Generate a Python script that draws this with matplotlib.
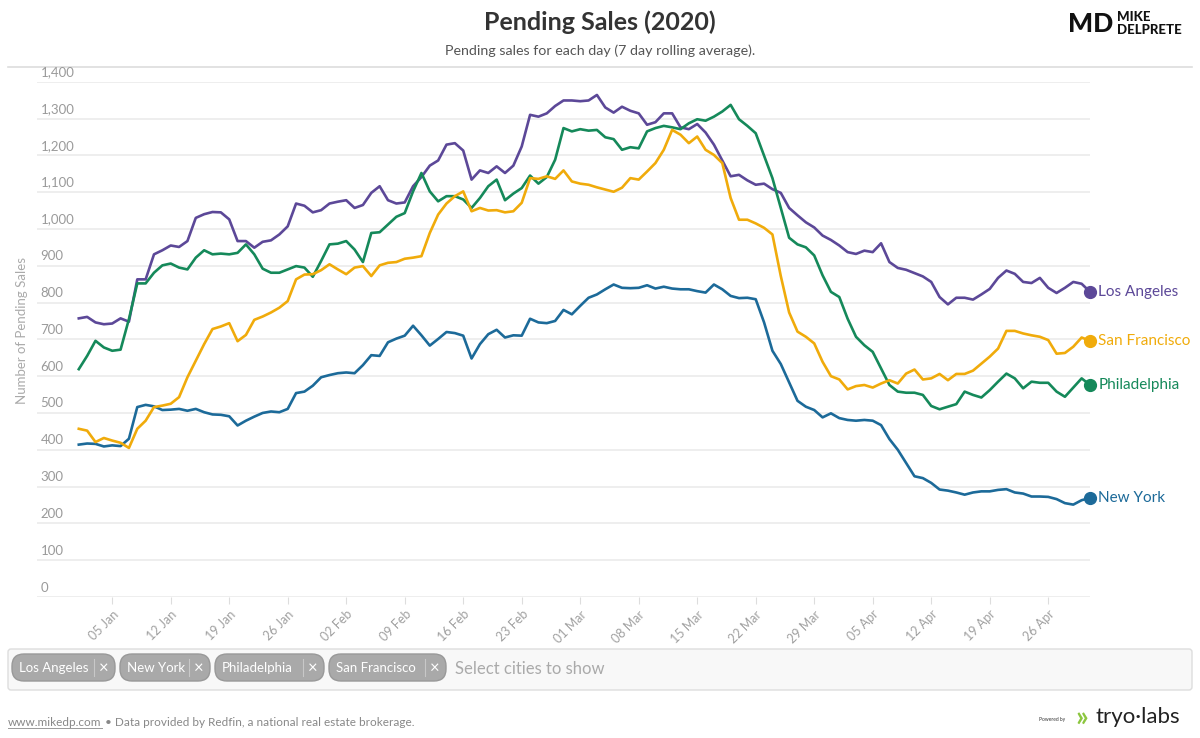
import matplotlib
matplotlib.use("Agg")
import matplotlib.pyplot as plt
import matplotlib.dates as mdates
from matplotlib.patches import FancyBboxPatch
import pandas as pd

plt.rcParams["font.family"] = ["Lato", "DejaVu Sans"]

# daily dates, 7 day rolling average of pending sales
dates = pd.date_range("2020-01-01", "2020-05-01", freq="D")
week_ticks = pd.date_range("2020-01-05", "2020-04-26", freq="7D")

los_angeles = [
    757, 761, 746, 741, 743, 757, 748, 863, 863, 931, 942, 955, 951, 967, 1030, 1040, 1046,
    1045, 1026, 967, 967, 949, 965, 969, 985, 1007, 1069, 1063, 1045, 1051, 1069, 1074, 1078, 1057, 1065,
    1098, 1116, 1078, 1069, 1072, 1116, 1141, 1172, 1186, 1229, 1233, 1213, 1134, 1159, 1152, 1170, 1152,
    1172, 1224, 1310, 1305, 1314, 1334, 1349, 1349, 1347, 1349, 1364, 1330, 1316, 1332, 1321, 1314, 1283, 1290,
    1314, 1314, 1276, 1271, 1285, 1262, 1229, 1186, 1143, 1147, 1132, 1120, 1123, 1108, 1098, 1057, 1037,
    1018, 1004, 982, 970, 955, 937, 932, 941, 937, 961, 910, 894, 889, 880, 871, 856, 815,
    795, 813, 813, 808, 822, 837, 867, 887, 878, 856, 853, 867, 840, 826, 840, 856, 851, 829,
]
new_york = [
    414, 417, 416, 409, 412, 410, 430, 516, 522, 518, 508, 509, 511, 506, 511, 502, 496,
    495, 491, 466, 479, 490, 500, 504, 502, 511, 554, 558, 574, 597, 603, 608, 610, 608, 630,
    657, 655, 692, 702, 710, 737, 711, 683, 701, 720, 717, 710, 648, 687, 714, 726, 705,
    711, 710, 756, 746, 744, 750, 780, 768, 791, 813, 822, 836, 849, 840, 839, 840, 847, 838,
    843, 838, 836, 836, 831, 827, 849, 836, 818, 812, 813, 809, 746, 669, 633, 583, 533,
    517, 508, 488, 499, 486, 481, 479, 481, 479, 467, 429, 400, 364, 328, 323, 310, 292,
    289, 284, 278, 284, 287, 287, 291, 293, 284, 281, 273, 273, 272, 266, 255, 251, 263, 269,
]
philadelphia = [
    619, 655, 696, 678, 669, 672, 755, 852, 852, 881, 901, 906, 895, 890, 922, 942, 931,
    933, 931, 935, 958, 931, 892, 881, 881, 890, 899, 895, 870, 913, 958, 960, 967, 944, 910,
    989, 991, 1012, 1033, 1043, 1102, 1152, 1102, 1075, 1089, 1089, 1080, 1057, 1084, 1116, 1134, 1078,
    1096, 1111, 1145, 1123, 1141, 1188, 1274, 1265, 1271, 1267, 1269, 1249, 1244, 1215, 1222, 1219, 1265, 1274,
    1280, 1276, 1271, 1287, 1298, 1294, 1305, 1319, 1337, 1298, 1280, 1260, 1199, 1138, 1057, 976, 958,
    950, 928, 874, 829, 815, 756, 707, 684, 666, 621, 576, 558, 555, 555, 549, 519, 510,
    517, 524, 558, 549, 542, 562, 585, 607, 594, 567, 585, 582, 582, 558, 544, 569, 594, 576,
]
san_francisco = [
    457, 452, 421, 432, 425, 419, 405, 457, 479, 516, 520, 525, 543, 597, 642, 687, 728,
    735, 744, 695, 712, 753, 762, 773, 786, 804, 863, 876, 877, 888, 904, 890, 877, 895, 899,
    872, 901, 908, 910, 919, 922, 926, 989, 1039, 1069, 1089, 1102, 1048, 1057, 1050, 1051, 1045,
    1048, 1071, 1138, 1136, 1143, 1136, 1159, 1129, 1123, 1120, 1113, 1107, 1101, 1112, 1138, 1134, 1156, 1179,
    1215, 1269, 1256, 1233, 1251, 1215, 1201, 1179, 1084, 1025, 1025, 1015, 1003, 985, 872, 773, 721,
    707, 689, 639, 600, 591, 564, 573, 576, 569, 580, 589, 580, 607, 618, 591, 594, 606,
    589, 606, 606, 615, 634, 653, 675, 723, 723, 716, 711, 707, 698, 661, 663, 680, 705, 696,
]

city_names = ["Los Angeles", "New York", "Philadelphia", "San Francisco"]
city_values = [los_angeles, new_york, philadelphia, san_francisco]
city_colors = ["#5c4898", "#1c6a99", "#15895a", "#f0ab0b"]

y_ticks = list(range(0, 1500, 100))

fig = plt.figure(figsize=(12, 7.38), dpi=100)

# pixel-coordinate overlay for the page furniture
page = fig.add_axes([0, 0, 1, 1])
page.set_xlim(0, 1200)
page.set_ylim(738, 0)
page.axis("off")

page.text(600, 22, "Pending Sales (2020)", ha="center", va="center",
          fontsize=18, fontweight="bold", color="#333333")
page.text(600, 51, "Pending sales for each day (7 day rolling average).", ha="center",
          va="center", fontsize=10.3, color="#555555")
page.plot([8, 1192], [67, 67], color="#dddddd", lw=1.2)

# logo
page.text(1068, 24, "MD", ha="left", va="center", fontsize=19, fontweight="black",
          color="#111111")
page.text(1117, 17, "MIKE", ha="left", va="center", fontsize=9.5, fontweight="black",
          color="#111111")
page.text(1117, 30, "DELPRETE", ha="left", va="center", fontsize=9.5, fontweight="black",
          color="#111111")

# filter box with city chips
page.add_patch(FancyBboxPatch((8, 649), 1184, 41, boxstyle="round,pad=0,rounding_size=3",
                              fc="#f8f8f8", ec="#dddddd", lw=1))
chip_x = [12, 120, 215, 329]
chip_w = [103, 90, 109, 117]
for name, x0, w in zip(city_names, chip_x, chip_w):
    page.add_patch(FancyBboxPatch((x0, 654), w, 27, boxstyle="round,pad=0,rounding_size=12",
                                  fc="#a9a9a9", ec="#999999", lw=1))
    page.text(x0 + 7, 667.5, name, ha="left", va="center", fontsize=9.5, color="white")
    page.plot([x0 + w - 21, x0 + w - 21], [659, 676], color="#c8c8c8", lw=0.8)
    page.text(x0 + w - 11, 667.5, "\u00d7", ha="center", va="center", fontsize=12,
              color="white")
page.text(455, 669, "Select cities to show", ha="left", va="center", fontsize=12,
          color="#aaaaaa")

# footer
page.text(8, 722, "www.mikedp.com", ha="left", va="center", fontsize=8.5, color="#888888")
page.plot([8, 102], [728, 728], color="#999999", lw=0.7)
page.text(102, 722, " \u2022 Data provided by Redfin, a national real estate brokerage.",
          ha="left", va="center", fontsize=8.5, color="#888888")
page.text(1065, 719, "Powered by", ha="right", va="center", fontsize=3.5, color="#333333")
page.text(1075, 718, "\u00bb", ha="left", va="center", fontsize=20, color="#8cc63f",
          fontweight="bold")
page.text(1096, 717, "tryo\u00b7labs", ha="left", va="center", fontsize=16, color="#222222")

# chart
ax = fig.add_axes([37 / 1200, 1 - 597 / 738, (1090 - 37) / 1200, (597 - 81.7) / 738])
ax.set_xlim(dates[0] - pd.Timedelta(days=5), dates[-1])
ax.set_ylim(0, 1400)
for side in ["top", "right", "left", "bottom"]:
    ax.spines[side].set_visible(False)

ax.set_yticks(y_ticks)
ax.yaxis.grid(True, color="#ebebeb", lw=1.2)
ax.tick_params(axis="y", length=0, labelleft=False)
for v in y_ticks:
    ax.annotate(f"{v:,}", xy=(0, v), xycoords=("axes fraction", "data"), xytext=(2.5, 2.5),
                textcoords="offset points", ha="left", va="bottom", fontsize=9.5,
                color="#9a9a9a")

ax.set_xticks(week_ticks)
ax.xaxis.set_major_formatter(mdates.DateFormatter("%d %b"))
ax.tick_params(axis="x", length=5, color="#dddddd", labelcolor="#a0a0a0", labelsize=9,
               pad=3)
for lab in ax.get_xticklabels():
    lab.set_rotation(45)
    lab.set_ha("right")
    lab.set_rotation_mode("anchor")

for name, vals, col in zip(city_names, city_values, city_colors):
    ax.plot(dates, vals, color=col, lw=1.9, solid_joinstyle="round", clip_on=False)
    ax.plot(dates[-1], vals[-1], "o", color=col, ms=8.5, clip_on=False)
    ax.annotate(name, xy=(dates[-1], vals[-1]), xytext=(6, 0), textcoords="offset points",
                ha="left", va="center", fontsize=11, color=col, annotation_clip=False)

fig.text(22 / 1200, 1 - 330 / 738, "Number of Pending Sales", rotation=90, ha="center",
         va="center", fontsize=9.5, color="#aaaaaa")

fig.savefig("out.png", dpi=100)
